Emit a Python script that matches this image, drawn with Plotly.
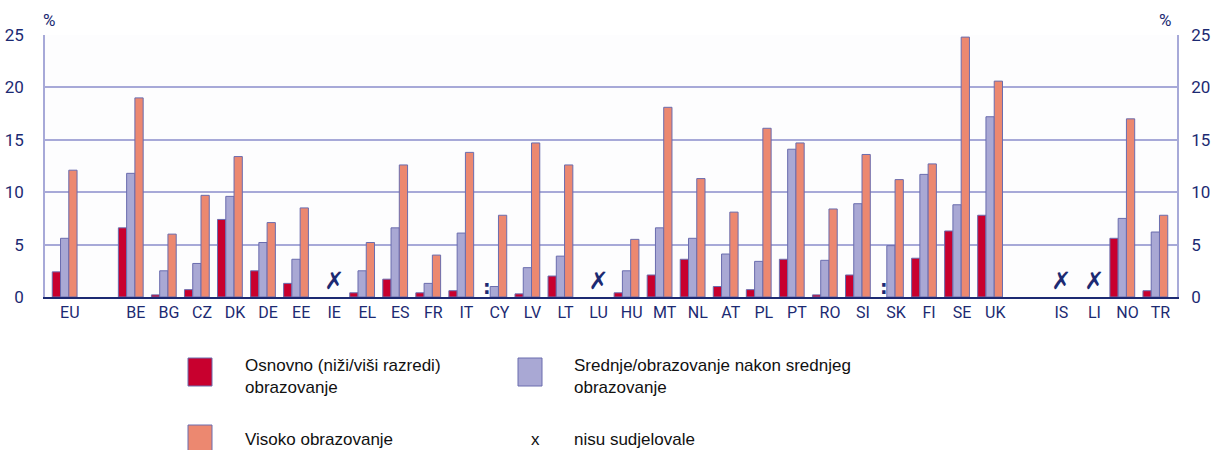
import plotly.graph_objects as go

categories = ["EU", " ", "BE", "BG", "CZ", "DK", "DE", "EE", "IE", "EL", "ES", "FR", "IT",
              "CY", "LV", "LT", "LU", "HU", "MT", "NL", "AT", "PL", "PT", "RO", "SI", "SK",
              "FI", "SE", "UK", "  ", "IS", "LI", "NO", "TR"]

basic = [2.4, None, 6.6, 0.2, 0.7, 7.4, 2.5, 1.3, None, 0.4, 1.7, 0.4, 0.6,
         None, 0.3, 2.0, None, 0.4, 2.1, 3.6, 1.0, 0.7, 3.6, 0.2, 2.1, None,
         3.7, 6.3, 7.8, None, None, None, 5.6, 0.6]
secondary = [5.6, None, 11.8, 2.5, 3.2, 9.6, 5.2, 3.6, None, 2.5, 6.6, 1.3, 6.1,
             1.0, 2.8, 3.9, None, 2.5, 6.6, 5.6, 4.1, 3.4, 14.1, 3.5, 8.9, 4.9,
             11.7, 8.8, 17.2, None, None, None, 7.5, 6.2]
higher = [12.1, None, 19.0, 6.0, 9.7, 13.4, 7.1, 8.5, None, 5.2, 12.6, 4.0, 13.8,
          7.8, 14.7, 12.6, None, 5.5, 18.1, 11.3, 8.1, 16.1, 14.7, 8.4, 13.6, 11.2,
          12.7, 24.8, 20.6, None, None, None, 17.0, 7.8]

not_participating = ["IE", "LU", "IS", "LI"]
not_available = ["CY", "SK"]

series_names = ["Osnovno (niži/viši razredi) obrazovanje",
                "Srednje/obrazovanje nakon srednjeg obrazovanje",
                "Visoko obrazovanje"]
legend_text_1 = "Osnovno (niži/viši razredi)<br>obrazovanje"
legend_text_2 = "Srednje/obrazovanje nakon srednjeg<br>obrazovanje"
legend_text_3 = "Visoko obrazovanje"
legend_text_4 = "nisu sudjelovale"

y_ticks = [0, 5, 10, 15, 20, 25]

RED = "#c8002e"
LAV = "#a9a8d4"
ORA = "#ec8870"
OUTLINE = "#6a6cae"
NAVY = "#1c2a72"
GRID = "#a7a9d8"
AXFONT = "Roboto, Liberation Sans, sans-serif"

BAR_W = 0.25
bar_offsets = [-0.53, -0.28, -0.03]

fig = go.Figure()
for vals, col, name, off in zip([basic, secondary, higher], [RED, LAV, ORA],
                                series_names, bar_offsets):
    fig.add_trace(go.Bar(x=categories, y=vals, name=name, width=BAR_W, offset=off,
                         marker=dict(color=col, line=dict(color=OUTLINE, width=1)),
                         showlegend=False))

# not participating (x)
fig.add_trace(go.Scatter(x=not_participating, y=[1.3] * len(not_participating),
                         mode="text", text=["<b>✗</b>"] * len(not_participating),
                         textfont=dict(size=24, color=NAVY, family="DejaVu Sans"),
                         showlegend=False, hoverinfo="skip"))
# data not available (:) at the position of the first bar
for c in not_available:
    fig.add_annotation(x=c, y=1.0, text="<b>:</b>", showarrow=False, xshift=-12,
                       font=dict(size=19, color=NAVY, family="DejaVu Sans"))

# invisible trace on right axis
fig.add_trace(go.Scatter(x=[categories[0]], y=[0], yaxis="y2", mode="markers",
                         marker=dict(opacity=0), showlegend=False, hoverinfo="skip"))

fig.update_layout(
    width=1212, height=450,
    margin=dict(l=45, r=35, t=35, b=153, autoexpand=False),
    paper_bgcolor="white", plot_bgcolor="#fdfdfe",
    barmode="overlay",
    xaxis=dict(type="category", categoryorder="array", categoryarray=categories,
               range=[-0.75, 33.5], showgrid=False, ticks="", automargin=False,
               showline=True, linecolor=NAVY, linewidth=2,
               tickfont=dict(family=AXFONT, size=16, color=NAVY)),
    yaxis=dict(range=[0, 25], tickvals=y_ticks, showgrid=True, gridcolor=GRID,
               gridwidth=1.5, zeroline=False, showline=True, linecolor=GRID,
               linewidth=1.5, ticks="", ticklabelstandoff=16, automargin=False,
               tickfont=dict(family=AXFONT, size=17, color=NAVY)),
    yaxis2=dict(range=[0, 25], tickvals=y_ticks, overlaying="y", side="right",
                showgrid=False, zeroline=False, showline=True, linecolor=GRID,
                linewidth=1.5, ticks="", ticklabelstandoff=9, automargin=False,
                tickfont=dict(family=AXFONT, size=17, color=NAVY)),
)

# % labels
fig.add_annotation(text="%", xref="paper", yref="paper", x=0.0, y=1.0,
                   xanchor="left", yanchor="bottom", yshift=3, xshift=-4, showarrow=False,
                   font=dict(family=AXFONT, size=17, color=NAVY))
fig.add_annotation(text="%", xref="paper", yref="paper", x=1.0, y=1.0,
                   xanchor="right", yanchor="bottom", yshift=3, xshift=-4, showarrow=False,
                   font=dict(family=AXFONT, size=17, color=NAVY))

# legend built from shapes and annotations
def px_x(px):
    return (px - 45) / (1177 - 45)

def px_y(py):
    return (297 - py) / (297 - 35)

LEGFONT = dict(family="Liberation Sans, Arial, sans-serif", size=17, color="#111111")
legend_boxes = [(188, 358, RED), (518, 358, LAV), (188, 425, ORA)]
for bx, by, col in legend_boxes:
    fig.add_shape(type="rect", xref="paper", yref="paper",
                  x0=px_x(bx), x1=px_x(bx + 24), y0=px_y(by), y1=px_y(by + 28),
                  fillcolor=col, line=dict(color=OUTLINE, width=1))

for tx, ty, txt in [(243, 366, legend_text_1), (572, 366, legend_text_2),
                    (243, 440, legend_text_3), (572, 440, legend_text_4)]:
    fig.add_annotation(text=txt, xref="paper", yref="paper", x=px_x(tx), y=px_y(ty),
                       xanchor="left", yanchor="middle", align="left", showarrow=False,
                       font=LEGFONT, yshift=-10 if "<br>" in txt else 0)
fig.add_annotation(text="x", xref="paper", yref="paper", x=px_x(535), y=px_y(440),
                   xanchor="center", yanchor="middle", showarrow=False, font=LEGFONT)

fig.write_html("out.html", config={"displayModeBar": False},
               post_script="document.body.style.margin='0';document.body.style.overflow='hidden';")
